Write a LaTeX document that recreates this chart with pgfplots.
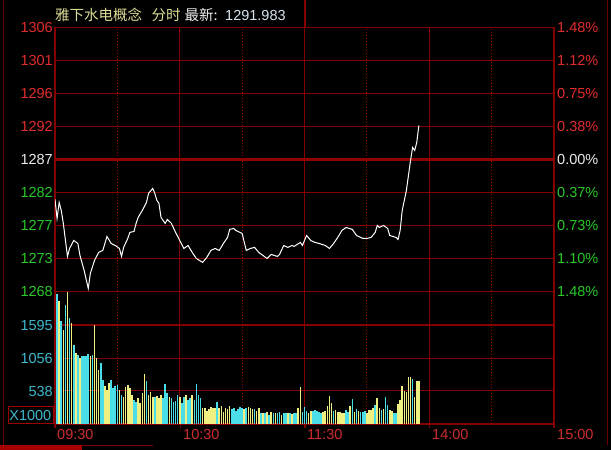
\documentclass[border=0pt]{standalone}
\usepackage{pgfplots}
\pgfplotsset{compat=1.18}
\usepackage{fontspec}
\setmainfont{Liberation Sans}
\newfontfamily\cjk{Noto Sans CJK SC}
\definecolor{gridred}{RGB}{130,0,0}
\definecolor{dotred}{RGB}{160,0,0}
\definecolor{zerored}{RGB}{145,0,0}
\definecolor{lblred}{RGB}{225,45,45}
\definecolor{lblgreen}{RGB}{40,200,40}
\definecolor{lblwhite}{RGB}{235,235,235}
\definecolor{lblcyan}{RGB}{60,185,205}
\definecolor{xred}{RGB}{205,45,45}
\definecolor{titleyellow}{RGB}{220,220,150}
\definecolor{numblue}{RGB}{215,228,240}
\definecolor{volyellow}{RGB}{240,240,130}
\definecolor{volcyan}{RGB}{75,222,232}
\begin{document}
\begin{tikzpicture}[x=1pt,y=1pt]
\useasboundingbox (0,0) rectangle (611,450);
\fill[black] (0,0) rectangle (611,450);
% outer decorations
\draw[gridred!80!black, line width=1pt] (3,5) -- (3,450);
\draw[gridred!80!black, line width=1pt] (607,5) -- (607,450);
\fill[red!65!black] (0,0) rectangle (82,5);
\draw[gridred, line width=1pt] (82,4) -- (153,4);
\draw[gridred, line width=1.2pt] (305,422.7) -- (305,450);
% price axis
\begin{axis}[
  at={(55pt,158.5pt)}, anchor=south west, scale only axis,
  width=499pt, height=264.2pt,
  xmin=0, xmax=240, ymin=1268.1, ymax=1306.1,
  axis line style={draw=gridred, line width=1.3pt},
  major tick length=0pt,
  xtick={60,120,180}, xticklabels={},
  extra x ticks={30,90,150,210}, extra x tick labels={},
  extra x tick style={grid=major, major grid style={draw=dotred, line width=1pt, dash pattern=on 1pt off 2pt}},
  ytick={1272.85,1277.6,1282.35,1291.85,1296.6,1301.35}, yticklabels={},
  extra y ticks={1287.1}, extra y tick labels={},
  extra y tick style={grid=major, major grid style={draw=zerored, line width=3pt}},
  grid=major, major grid style={draw=gridred, line width=1.3pt},
]
\addplot[white, line width=1pt] coordinates {
(0,1281.34) (1,1278.6) (2,1280.91) (3,1279.76) (4,1277.89) (6,1273.14) (7,1274.29) (9,1275.44)
(11,1275.01) (12,1273.29) (14,1271.13) (16,1268.54) (17,1270.70) (19,1272.57) (21,1273.72) (23,1274.01)
(24,1275.01) (25,1276.02) (27,1275.01) (29,1274.72) (31,1274.29) (32,1273.14) (33,1274.44) (35,1275.73)
(36,1276.60) (38,1276.74) (39,1277.89) (40,1278.75) (42,1279.76) (44,1280.91) (45,1282.21) (47,1282.93)
(48,1282.21) (49,1281.20) (50,1280.77) (51,1278.75) (53,1277.89) (54,1278.47) (56,1277.89) (58,1276.60)
(60,1275.44) (62,1274.29) (64,1274.72) (66,1273.72) (68,1272.85) (71,1272.28) (73,1273.00) (75,1274.01)
(77,1274.29) (79,1274.01) (81,1275.01) (83,1275.88) (84,1277.03) (86,1277.17) (87,1276.88) (90,1276.45)
(92,1274.01) (94,1274.29) (96,1274.44) (98,1273.72) (100,1273.29) (102,1272.85) (104,1273.43) (107,1273.14)
(108,1273.43) (110,1274.72) (112,1274.44) (114,1274.72) (115,1274.58) (118,1275.16) (119,1274.72) (121,1276.16)
(123,1275.44) (125,1275.16) (127,1275.01) (130,1274.72) (132,1274.29) (134,1275.01) (136,1275.88) (138,1276.88)
(140,1277.31) (143,1277.03) (145,1276.16) (148,1275.73) (150,1275.73) (152,1275.88) (154,1276.60) (155,1277.60)
(156,1277.31) (158,1277.60) (160,1277.17) (161,1276.16) (164,1275.88) (165,1275.59) (166,1276.88) (167,1279.76)
(169,1282.64) (171,1286.96) (172,1288.83) (173,1288.39) (174,1289.55) (175,1291.98)
};
\end{axis}
% volume axis
\begin{axis}[
  at={(55pt,26pt)}, anchor=south west, scale only axis,
  width=499pt, height=132.5pt,
  xmin=0, xmax=240, ymin=0, ymax=2138,
  axis line style={draw=gridred, line width=1.3pt},
  major tick length=0pt,
  xtick={60,120,180}, xticklabels={},
  extra x ticks={30,90,150,210}, extra x tick labels={},
  extra x tick style={grid=major, major grid style={draw=dotred, line width=1pt, dash pattern=on 1pt off 2pt}},
  ytick={538,1056,1595}, yticklabels={},
  grid=major, major grid style={draw=gridred, line width=1.3pt},
]
\addplot[ycomb, draw=white, line width=1.6pt] coordinates {(0.8,994)};
\addplot[ycomb, draw=volyellow, line width=1.6pt] coordinates {
(2,1982) (4,1523) (6,2130) (8,1631) (10,1145) (12,1064) (17,1091) (19,1604) (20,1064) (21,875)
(24,616) (25,551) (26,659) (31,551) (33,443) (34,605) (35,632) (36,578) (37,470) (40,416)
(41,335) (42,497) (43,810) (45,470) (46,524) (47,443) (49,454) (50,416) (51,470) (55,443)
(60,443) (63,470) (66,470)
(71,254) (72,254) (73,211) (74,238) (75,281) (76,265) (77,265) (79,254) (80,297) (81,200)
(82,254) (83,238) (84,297) (91,238) (93,281) (94,254) (95,238) (97,211) (98,254) (100,184)
(102,200) (104,200) (106,184) (109,146) (112,173) (114,162) (117,254) (118,605) (122,173) (123,216)
(129,200) (130,216) (131,297) (132,459) (133,335) (135,227) (136,200) (137,200) (138,184) (139,173)
(142,292) (144,200) (146,211) (150,173) (151,227) (152,227) (153,254) (155,427) (156,254) (158,238)
(161,227) (162,211) (165,324) (166,389) (167,621) (168,535) (169,524) (170,756) (171,756) (173,443)
(174,686) (175,686)
};
\addplot[ycomb, draw=volcyan, line width=1.6pt] coordinates {
(1,2090) (3,1658) (5,1928) (7,1712) (9,1280) (11,1118) (13,1102) (14,1091) (15,1091) (16,1134)
(18,1118) (22,983) (23,713) (27,713) (28,578) (29,616) (30,632) (32,470) (38,389) (39,362)
(44,686) (48,443) (52,416) (53,643) (54,497) (56,416) (57,362) (58,378) (59,470) (61,335)
(62,443) (64,389) (65,416) (67,389) (68,643)
(69,470) (70,416) (78,362) (85,238) (86,265) (87,211) (88,238) (89,281) (90,265) (92,254)
(96,238) (99,184) (101,184) (103,146) (105,173) (107,173) (108,200) (110,184) (111,184) (113,184)
(115,184) (116,184) (119,200) (120,281) (121,211) (124,216) (125,227) (126,216) (127,200) (128,184)
(134,211) (140,227) (141,200) (143,405) (145,238) (147,200) (148,200) (149,211) (154,308) (157,227)
(159,443) (160,308) (163,184) (164,184) (172,724)
};
\end{axis}
% small extensions below the volume axis
\foreach \xx in {55,180.8,305,429.5,554} {\draw[gridred, line width=1.3pt] (\xx,26) -- (\xx,22);}
% labels
\begin{scope}[every node/.style={inner sep=0pt, font=\fontsize{14.5}{16}\selectfont}]
\node[anchor=base west, text=titleyellow] at (55,429.5) {\cjk 雅下水电概念};
\node[anchor=base west, text=titleyellow] at (151.5,429.5) {\cjk 分时};
\node[anchor=base west, text=lblwhite] at (184.5,429.5) {\cjk 最新:};
\node[anchor=base west, text=numblue] at (225,429.5) {1291.983};
% left price labels
\node[anchor=base east, text=lblred] at (53,417.4) {1306};
\node[anchor=base east, text=lblred] at (53,384.4) {1301};
\node[anchor=base east, text=lblred] at (53,351.4) {1296};
\node[anchor=base east, text=lblred] at (53,318.4) {1292};
\node[anchor=base east, text=lblwhite] at (53,285.4) {1287};
\node[anchor=base east, text=lblgreen] at (53,252.4) {1282};
\node[anchor=base east, text=lblgreen] at (53,219.4) {1277};
\node[anchor=base east, text=lblgreen] at (53,186.4) {1273};
\node[anchor=base east, text=lblgreen] at (53,153.4) {1268};
% right percent labels
\node[anchor=base west, text=lblred] at (557,417.4) {1.48\%};
\node[anchor=base west, text=lblred] at (557,384.4) {1.12\%};
\node[anchor=base west, text=lblred] at (557,351.4) {0.75\%};
\node[anchor=base west, text=lblred] at (557,318.4) {0.38\%};
\node[anchor=base west, text=lblwhite] at (557,285.4) {0.00\%};
\node[anchor=base west, text=lblgreen] at (557,252.4) {0.37\%};
\node[anchor=base west, text=lblgreen] at (557,219.4) {0.73\%};
\node[anchor=base west, text=lblgreen] at (557,186.4) {1.10\%};
\node[anchor=base west, text=lblgreen] at (557,153.4) {1.48\%};
% volume labels
\node[anchor=base east, text=lblcyan] at (53,119.7) {1595};
\node[anchor=base east, text=lblcyan] at (53,86) {1056};
\node[anchor=base east, text=lblcyan] at (53,53) {538};
\node[anchor=base east, text=lblcyan] at (51.5,29.7) {X1000};
% time labels
\node[anchor=base west, text=xred] at (57,10) {09:30};
\node[anchor=base west, text=xred] at (183,10) {10:30};
\node[anchor=base west, text=xred] at (307,10) {11:30};
\node[anchor=base west, text=xred] at (432,10) {14:00};
\node[anchor=base west, text=xred] at (557,10) {15:00};
\end{scope}
\draw[red!60!black, line width=1pt] (8.5,26.5) rectangle (53.5,43.5);
\end{tikzpicture}
\end{document}
